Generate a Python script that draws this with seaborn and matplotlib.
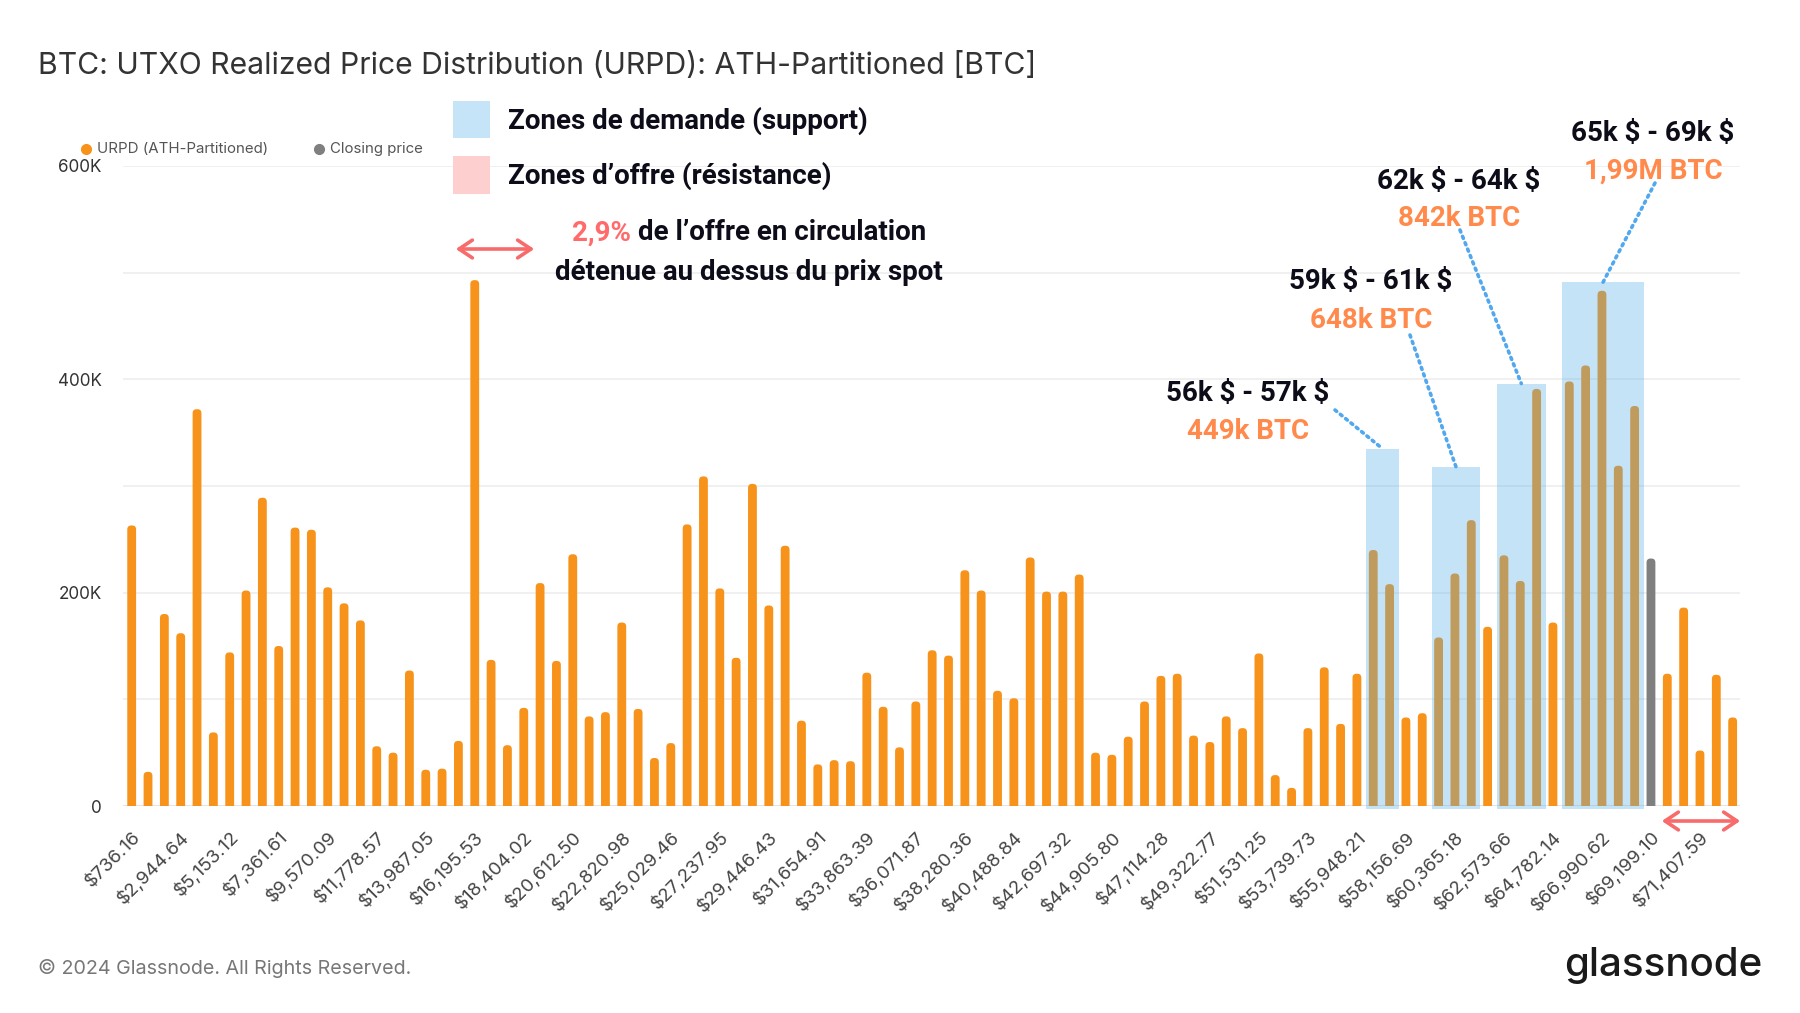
import numpy as np
import pandas as pd
import matplotlib
matplotlib.use("Agg")
import matplotlib.pyplot as plt
import seaborn as sns
from matplotlib.patches import Rectangle, FancyBboxPatch, FancyArrowPatch
from matplotlib.lines import Line2D

# ---------------- data ----------------
urpd_k = [263, 32, 180, 162, 372, 69, 144, 202, 289, 150, 261, 259, 205, 190, 174, 56, 50, 127, 34, 35, 61,
          493, 137, 57, 92, 209, 136, 236, 84, 88, 172, 91, 45, 59, 264, 309, 204, 139, 302, 188, 244,
          80, 39, 43, 42, 125, 93, 55, 98, 146, 141, 221, 202, 108, 101, 233, 201, 201, 217, 50, 48, 65,
          98, 122, 124, 66, 60, 84, 73, 143, 29, 17, 73, 130, 77, 124, 240, 208, 83, 87, 158, 218, 268,
          168, 235, 211, 391, 172, 398, 413, 483, 319, 375, 232, 124, 186, 52, 123, 83]
closing_bin = 93  # index of the bar holding the closing price

tick_labels = ["$736.16", "$2,944.64", "$5,153.12", "$7,361.61", "$9,570.09", "$11,778.57", "$13,987.05",
               "$16,195.53", "$18,404.02", "$20,612.50", "$22,820.98", "$25,029.46", "$27,237.95",
               "$29,446.43", "$31,654.91", "$33,863.39", "$36,071.87", "$38,280.36", "$40,488.84",
               "$42,697.32", "$44,905.80", "$47,114.28", "$49,322.77", "$51,531.25", "$53,739.73",
               "$55,948.21", "$58,156.69", "$60,365.18", "$62,573.66", "$64,782.14", "$66,990.62",
               "$69,199.10", "$71,407.59"]

# support zones: (first bar index, last bar index, box top in BTC)
zone_first = [76, 80, 84, 88]
zone_last = [77, 82, 86, 92]
zone_top_k = [335, 318, 396, 491]
zone_range = ["56k $ - 57k $", "59k $ - 61k $", "62k $ - 64k $", "65k $ - 69k $"]
zone_btc = ["449k BTC", "648k BTC", "842k BTC", "1,99M BTC"]

ORANGE = "#F7931A"
GRAY = "#7F7F7F"
W, H = 1800, 1013

def fx(px):
    return px / W

def fy(py):
    return 1 - py / H

sns.set_theme(style="white")
plt.rcParams["font.family"] = ["Inter", "DejaVu Sans"]
plt.rcParams["text.parse_math"] = False

fig = plt.figure(figsize=(18, 10.13), dpi=100)
ax_left, ax_right, ax_top, ax_bot = 122.7, 1740, 166, 806
ax = fig.add_axes([fx(ax_left), fy(ax_bot), (ax_right - ax_left) / W, (ax_bot - ax_top) / H])

n = len(urpd_k)
df = pd.DataFrame({
    "pos": np.arange(n),
    "value": np.array(urpd_k) * 1000.0,
    "kind": ["close" if i == closing_bin else "urpd" for i in range(n)],
})
sns.barplot(data=df, x="pos", y="value", hue="kind",
            palette={"urpd": ORANGE, "close": GRAY}, dodge=False, width=0.54,
            saturation=1, legend=False, ax=ax, zorder=2)

xmin, xmax = -0.55, n - 1 + 0.45
ax.set_xlim(xmin, xmax)
ax.set_ylim(0, 600000)

# rounded-top bars
px_x = (ax_right - ax_left) / (xmax - xmin)
px_y = (ax_bot - ax_top) / 600000
aspect = px_x / px_y
for p in list(ax.patches):
    x0, w, h = p.get_x(), p.get_width(), p.get_height()
    if h <= 0:
        continue
    r = w * 0.45
    ry = r * aspect
    fb = FancyBboxPatch((x0, -ry), w, h + ry,
                        boxstyle=f"round,pad=0,rounding_size={r}",
                        mutation_aspect=aspect, facecolor=p.get_facecolor(),
                        edgecolor="none", zorder=2)
    ax.add_patch(fb)
    p.set_visible(False)

# axes styling
for s in ax.spines.values():
    s.set_visible(False)
ax.set_yticks([0, 200000, 400000, 600000])
ax.set_yticklabels(["0", "200K", "400K", "600K"])
ax.set_yticks([100000, 300000, 500000], minor=True)
ax.grid(axis="y", which="both", color="#EEEEEE", lw=1.2)
ax.grid(axis="x", visible=False)
ax.set_axisbelow(True)
ax.axhline(0, color="#E4E4E4", lw=1.5, zorder=1)
ax.tick_params(axis="y", which="both", length=0, pad=15, labelsize=12.3, labelcolor="#333333")
ax.set_xticks(np.arange(0, n, 3))
ax.set_xticklabels(tick_labels, rotation=45, ha="right", rotation_mode="anchor",
                   fontsize=13.5, color="#444444")
ax.tick_params(axis="x", length=0, pad=16)
ax.set_xlabel("")
ax.set_ylabel("")

# support zones overlay
for a, b, t in zip(zone_first, zone_last, zone_top_k):
    ax.add_patch(Rectangle((a - 0.42, -2500), (b - a) + 0.97, t * 1000 + 2500,
                           facecolor="#50ACE9", alpha=0.33, edgecolor="none",
                           zorder=3, clip_on=False))

ANN = dict(fontsize=20, fontweight="bold", family="Roboto")

# zone labels + dotted leaders
label_pos = [(1248, 393, 431), (1371, 281, 320), (1459, 181, 218), (1653, 133, 171)]
leader_start = [(1335, 410), (1410, 335), (1460, 230), (1655, 183)]
for i in range(4):
    cx, y1, y2 = label_pos[i]
    fig.text(fx(cx), fy(y1), zone_range[i], ha="center", va="center", color="#0D0D1A", **ANN)
    fig.text(fx(cx), fy(y2), zone_btc[i], ha="center", va="center", color="#FF8A4C", **ANN)
    xc = (zone_first[i] - 0.42 + zone_last[i] + 0.55) / 2
    sx, sy = leader_start[i]
    ax.annotate("", xy=(xc, zone_top_k[i] * 1000), xycoords="data",
                xytext=(fx(sx), fy(sy)), textcoords="figure fraction",
                arrowprops=dict(arrowstyle="-", color="#52A8EE", lw=2.6,
                                linestyle=(0, (0.6, 1.3)), shrinkA=0, shrinkB=0,
                                capstyle="round"),
                annotation_clip=False, zorder=4)

# title
fig.text(fx(38), fy(66), "BTC: UTXO Realized Price Distribution (URPD): ATH-Partitioned [BTC]",
         ha="left", va="center", fontsize=21.7, color="#333333")

# small legend
fig.add_artist(Line2D([fx(86)], [fy(149)], marker="o", color=ORANGE, markersize=7,
                      linestyle="none", transform=fig.transFigure))
fig.text(fx(97), fy(149), "URPD (ATH-Partitioned)", ha="left", va="center",
         fontsize=10.8, color="#555555")
fig.add_artist(Line2D([fx(319)], [fy(149)], marker="o", color=GRAY, markersize=7,
                      linestyle="none", transform=fig.transFigure))
fig.text(fx(330), fy(149), "Closing price", ha="left", va="center",
         fontsize=10.8, color="#555555")

# zone legend
fig.add_artist(Rectangle((fx(453), fy(138)), 37 / W, 37 / H, facecolor="#C6E4F8",
                         edgecolor="none", transform=fig.transFigure))
fig.add_artist(Rectangle((fx(453), fy(194)), 37 / W, 38 / H, facecolor="#FDCFCF",
                         edgecolor="none", transform=fig.transFigure))
fig.text(fx(508), fy(121), "Zones de demande (support)", ha="left", va="center",
         color="#0D0D1A", **ANN)
fig.text(fx(508), fy(176), "Zones d\u2019offre (résistance)", ha="left", va="center",
         color="#0D0D1A", **ANN)

# supply note (line 1 is two colours, centred as a whole)
renderer = fig.canvas.get_renderer()
ta = fig.text(0, 0, "2,9% ", ha="left", va="center", color="#FF6B6B", **ANN)
tb = fig.text(0, 0, "de l\u2019offre en circulation", ha="left", va="center", color="#0D0D1A", **ANN)
wa = ta.get_window_extent(renderer).width
wb = tb.get_window_extent(renderer).width
cx_note = 749
start = cx_note - (wa + wb) / 2
ta.set_position((fx(start), fy(233)))
tb.set_position((fx(start + wa), fy(233)))
fig.text(fx(cx_note), fy(272), "détenue au dessus du prix spot", ha="center", va="center",
         color="#0D0D1A", **ANN)

# red arrows
for (x0, x1, yy) in [(453, 537, 249), (1659, 1743, 821)]:
    fig.add_artist(FancyArrowPatch(
        (fx(x0), fy(yy)), (fx(x1), fy(yy)), transform=fig.transFigure,
        arrowstyle="<->,head_length=6,head_width=4", color="#F76B6B", lw=2.6,
        mutation_scale=1.6))

# footer
fig.text(fx(38), fy(968), "© 2024 Glassnode. All Rights Reserved.", ha="left", va="center",
         fontsize=14.2, color="#777777")
fig.text(fx(1762), fy(965), "glassnode", ha="right", va="center",
         fontsize=29, color="#1A1A1A", fontweight="medium")

fig.savefig("out.png", dpi=100, facecolor="white")
